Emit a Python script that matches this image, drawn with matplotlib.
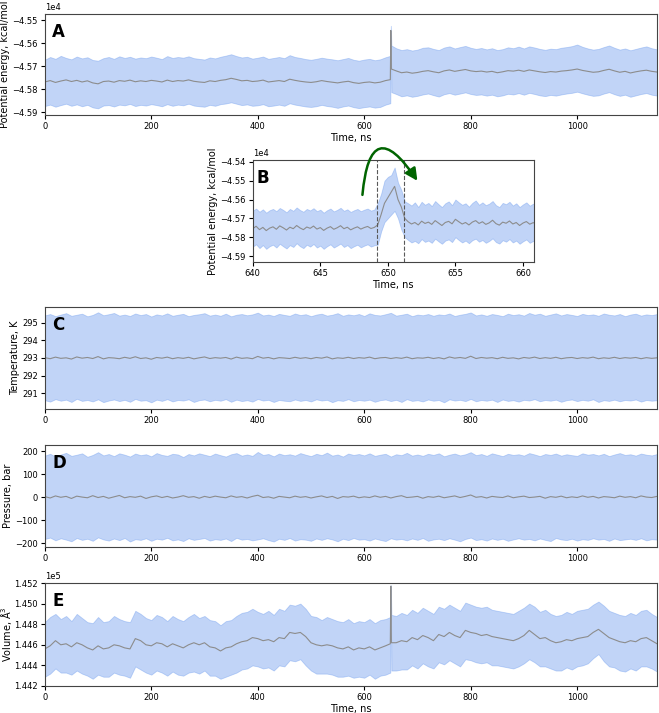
"""
Five-panel MD stability figure: potential energy (full run + zoom on the
jump near 650 ns), temperature, pressure and volume, each shown as a mean
trace with a shaded band.
"""

import matplotlib.pyplot as plt

# ---------------------------------------------------------------------------
# Data
# ---------------------------------------------------------------------------
# Panel A / E share this time grid (ns): 10 ns steps plus the jump at 650 ns
t_jump = list(range(0, 650, 10)) + [649, 650, 651] + list(range(660, 1151, 10))
t_grid = list(range(0, 1151, 10))

a_mean = [
    -45768, -45762, -45770, -45764, -45759, -45766, -45761, -45768, -45763, -45772,
    -45776, -45766, -45764, -45769, -45762, -45765, -45760, -45767, -45763, -45766,
    -45761, -45764, -45768, -45760, -45766, -45762, -45764, -45759, -45765, -45768,
    -45770, -45763, -45766, -45761, -45758, -45752, -45757, -45763, -45761, -45766,
    -45764, -45760, -45768, -45765, -45762, -45766, -45756, -45761, -45765, -45768,
    -45770, -45767, -45762, -45766, -45769, -45772, -45768, -45765, -45771, -45774,
    -45770, -45768, -45772, -45769, -45762,
    -45758, -45545, -45712,
    -45720, -45728, -45725, -45730, -45727, -45722, -45719, -45724, -45728, -45720,
    -45716, -45722, -45718, -45714, -45720, -45723, -45721, -45725, -45722, -45728,
    -45724, -45719, -45721, -45717, -45722, -45716, -45720, -45724, -45727, -45723,
    -45725, -45721, -45719, -45716, -45712, -45718, -45722, -45726, -45724, -45718,
    -45713, -45720, -45726, -45722, -45729, -45724, -45720, -45717, -45722, -45725,
]
a_hi = [
    -45672, -45660, -45668, -45655, -45664, -45670, -45658, -45666, -45661, -45673,
    -45676, -45665, -45660, -45668, -45657, -45664, -45659, -45667, -45662, -45665,
    -45658, -45663, -45669, -45656, -45664, -45660, -45663, -45657, -45665, -45668,
    -45671, -45662, -45666, -45659, -45654, -45648, -45656, -45662, -45659, -45667,
    -45663, -45658, -45668, -45664, -45660, -45665, -45652, -45660, -45664, -45669,
    -45672, -45668, -45663, -45667, -45670, -45674, -45669, -45664, -45672, -45676,
    -45671, -45668, -45674, -45670, -45661,
    -45655, -45525, -45610,
    -45622, -45630, -45626, -45632, -45628, -45620, -45618, -45625, -45630, -45619,
    -45614, -45623, -45617, -45612, -45620, -45625, -45621, -45627, -45622, -45630,
    -45626, -45618, -45622, -45615, -45623, -45614, -45619, -45625, -45629, -45624,
    -45626, -45620, -45617, -45613, -45606, -45616, -45623, -45628, -45625, -45617,
    -45610, -45620, -45628, -45623, -45631, -45625, -45619, -45614, -45622, -45627,
]
a_lo = [
    -45872, -45866, -45875, -45868, -45862, -45871, -45865, -45873, -45867, -45878,
    -45882, -45870, -45868, -45874, -45866, -45869, -45863, -45872, -45867, -45870,
    -45864, -45868, -45873, -45864, -45871, -45866, -45869, -45862, -45870, -45873,
    -45875, -45867, -45871, -45864, -45861, -45856, -45862, -45868, -45865, -45871,
    -45869, -45864, -45873, -45870, -45866, -45871, -45860, -45866, -45870, -45874,
    -45876, -45873, -45867, -45872, -45875, -45880, -45874, -45870, -45877, -45881,
    -45877, -45874, -45879, -45876, -45866,
    -45860, -45570, -45812,
    -45820, -45830, -45826, -45832, -45828, -45822, -45818, -45825, -45831, -45821,
    -45816, -45823, -45818, -45813, -45820, -45824, -45822, -45827, -45823, -45830,
    -45826, -45819, -45822, -45816, -45823, -45815, -45820, -45826, -45829, -45824,
    -45827, -45822, -45818, -45815, -45810, -45817, -45823, -45828, -45826, -45818,
    -45812, -45821, -45828, -45823, -45832, -45826, -45820, -45816, -45823, -45827,
]

# Panel B: zoom 640-661 ns, 0.25 ns steps
t_zoom = [640 + 0.25 * i for i in range(85)]
b_mean = [
    -45755, -45742, -45760, -45748, -45765, -45752, -45745, -45758, -45740, -45750,
    -45762, -45747, -45755, -45738, -45751, -45760, -45746, -45753, -45741, -45757,
    -45749, -45764, -45752, -45744, -45758, -45750, -45739, -45755, -45747, -45761,
    -45752, -45745, -45757, -45749, -45743, -45754, -45748,
    -45735, -45680, -45620, -45590, -45560, -45530, -45600, -45640, -45700,
    -45718, -45730, -45722, -45735, -45715, -45727, -45720, -45732, -45712, -45725,
    -45738, -45722, -45716, -45729, -45705, -45718, -45730, -45722, -45735, -45720,
    -45712, -45727, -45718, -45732, -45724, -45710, -45728, -45736, -45720, -45726,
    -45714, -45730, -45722, -45738, -45725, -45717, -45731, -45723, -45728,
]
b_hi = [
    -45660, -45648, -45665, -45652, -45670, -45657, -45650, -45662, -45645, -45655,
    -45668, -45650, -45660, -45642, -45656, -45665, -45650, -45658, -45646, -45662,
    -45654, -45670, -45657, -45648, -45663, -45655, -45644, -45660, -45652, -45666,
    -45657, -45650, -45662, -45654, -45648, -45659, -45653,
    -45620, -45570, -45500, -45480, -45470, -45430, -45510, -45550, -45610,
    -45620, -45632, -45615, -45640, -45612, -45628, -45618, -45635, -45608, -45625,
    -45640, -45620, -45610, -45630, -45600, -45615, -45628, -45620, -45638, -45618,
    -45605, -45628, -45615, -45630, -45622, -45608, -45630, -45640, -45618, -45625,
    -45612, -45632, -45620, -45640, -45626, -45615, -45633, -45622, -45630,
]
b_lo = [
    -45850, -45838, -45858, -45842, -45862, -45848, -45840, -45855, -45835, -45848,
    -45860, -45842, -45852, -45832, -45848, -45858, -45840, -45850, -45836, -45855,
    -45845, -45862, -45848, -45838, -45855, -45845, -45834, -45852, -45842, -45858,
    -45848, -45840, -45854, -45845, -45838, -45850, -45843,
    -45840, -45770, -45720, -45700, -45680, -45660, -45700, -45760, -45800,
    -45815, -45828, -45820, -45832, -45810, -45825, -45818, -45830, -45808, -45822,
    -45835, -45818, -45812, -45826, -45800, -45815, -45828, -45818, -45832, -45816,
    -45808, -45824, -45815, -45830, -45820, -45806, -45826, -45834, -45816, -45824,
    -45810, -45828, -45818, -45835, -45822, -45812, -45830, -45820, -45826,
]
b_marks = [649.2, 651.2]

# Panel C: temperature, K
c_mean = [
    293.02, 292.96, 293.05, 292.98, 293.01, 292.94, 293.06, 292.99, 293.03, 292.97,
    293.08, 292.95, 293.02, 293.00, 292.96, 293.04, 292.98, 293.07, 292.97, 293.01,
    292.93, 293.03, 292.99, 293.05, 292.96, 293.02, 292.98, 293.04, 292.95, 293.01,
    293.06, 292.97, 293.02, 292.99, 293.03, 292.94, 293.05, 292.98, 293.01, 292.96,
    293.09, 292.99, 293.03, 292.95, 293.02, 293.00, 292.97, 293.04, 292.98, 293.02,
    292.96, 293.03, 292.99, 293.06, 292.95, 293.01, 292.98, 293.04, 292.97, 293.02,
    292.99, 293.05, 292.96, 293.01, 293.03, 292.97, 293.02, 292.98, 293.05, 292.96,
    293.01, 292.99, 293.04, 292.97, 293.02, 292.95, 293.06, 292.99, 293.03, 292.98,
    293.10, 292.97, 293.03, 292.99, 293.02, 292.96, 293.04, 292.98, 293.01, 292.95,
    293.03, 292.99, 293.05, 292.97, 293.02, 292.98, 293.04, 292.96, 293.01, 293.03,
    292.97, 293.02, 292.99, 293.05, 292.96, 293.01, 292.98, 293.04, 292.97, 293.02,
    292.99, 293.03, 292.96, 293.02, 292.98, 293.01,
]
c_hi = [
    295.42, 295.50, 295.38, 295.47, 295.55, 295.40, 295.46, 295.52, 295.37, 295.45,
    295.60, 295.43, 295.49, 295.56, 295.41, 295.47, 295.39, 295.53, 295.44, 295.50,
    295.36, 295.48, 295.42, 295.54, 295.40, 295.46, 295.51, 295.38, 295.45, 295.49,
    295.55, 295.41, 295.47, 295.40, 295.52, 295.37, 295.46, 295.50, 295.43, 295.48,
    295.58, 295.42, 295.47, 295.39, 295.51, 295.45, 295.40, 295.53, 295.44, 295.49,
    295.38, 295.47, 295.52, 295.41, 295.46, 295.55, 295.40, 295.48, 295.43, 295.50,
    295.39, 295.54, 295.45, 295.42, 295.49, 295.57, 295.41, 295.46, 295.52, 295.38,
    295.47, 295.43, 295.50, 295.40, 295.48, 295.44, 295.53, 295.39, 295.46, 295.51,
    295.59, 295.42, 295.48, 295.40, 295.50, 295.45, 295.38, 295.52, 295.44, 295.49,
    295.41, 295.56, 295.46, 295.52, 295.40, 295.47, 295.54, 295.42, 295.50, 295.45,
    295.39, 295.51, 295.44, 295.48, 295.40, 295.53, 295.46, 295.42, 295.50, 295.38,
    295.47, 295.52, 295.41, 295.48, 295.44, 295.50,
]
c_lo = [
    290.60, 290.52, 290.66, 290.57, 290.63, 290.50, 290.68, 290.56, 290.61, 290.53,
    290.65, 290.49, 290.58, 290.64, 290.55, 290.62, 290.51, 290.67, 290.57, 290.60,
    290.48, 290.63, 290.56, 290.66, 290.53, 290.61, 290.58, 290.65, 290.50, 290.60,
    290.64, 290.54, 290.62, 290.57, 290.66, 290.51, 290.63, 290.55, 290.60, 290.52,
    290.67, 290.58, 290.62, 290.50, 290.61, 290.57, 290.54, 290.64, 290.56, 290.61,
    290.53, 290.65, 290.58, 290.62, 290.49, 290.60, 290.56, 290.66, 290.54, 290.61,
    290.57, 290.63, 290.51, 290.60, 290.64, 290.55, 290.62, 290.50, 290.66, 290.56,
    290.60, 290.53, 290.64, 290.57, 290.61, 290.48, 290.65, 290.58, 290.62, 290.55,
    290.67, 290.54, 290.61, 290.57, 290.63, 290.50, 290.64, 290.56, 290.60, 290.52,
    290.62, 290.58, 290.66, 290.54, 290.61, 290.57, 290.63, 290.51, 290.60, 290.64,
    290.55, 290.62, 290.57, 290.65, 290.50, 290.60, 290.56, 290.63, 290.54, 290.61,
    290.58, 290.64, 290.52, 290.61, 290.57, 290.60,
]

# Panel D: pressure, bar
d_mean = [
    2, -4, 5, -1, 3, -6, 4, 0, -3, 6, -2, 3, -5, 1, 7, -3, 2, -1, 4, -6,
    1, 5, -2, 3, -4, 0, 6, -1, 2, -5, 3, -2, 4, 0, -3, 5, -1, 2, -4, 3,
    8, -2, 1, -5, 3, 0, -3, 4, -1, 2, -4, 1, 5, -2, 3, -6, 2, 0, 4, -3,
    1, -2, 5, -1, 3, -4, 2, 6, -2, 0, 3, -5, 2, -1, 4, -3, 1, 5, -2, 3,
    9, -1, 2, -4, 3, 0, -2, 5, -3, 1, 4, -2, 0, 3, -5, 2, -1, 4, -3, 1,
    -2, 5, -1, 3, -4, 2, 0, -3, 4, -1, 2, -3, 5, 0, -2, 3,
]
d_hi = [
    180, 188, 176, 185, 192, 179, 184, 190, 175, 183, 195, 181, 187, 178, 190, 184, 176, 189, 182, 186,
    177, 191, 183, 179, 188, 185, 174, 187, 181, 190, 184, 178, 189, 182, 176, 186, 191, 180, 185, 179,
    196, 183, 187, 177, 189, 182, 186, 180, 191, 184, 178, 188, 182, 193, 180, 185, 176, 189, 183, 187,
    181, 190, 179, 184, 188, 176, 186, 182, 192, 180, 185, 179, 188, 183, 190, 177, 184, 189, 181, 186,
    195, 182, 187, 179, 190, 184, 178, 188, 183, 186, 180, 191, 185, 178, 187, 183, 189, 180, 186, 182,
    179, 190, 184, 187, 181, 188, 178, 185, 191, 183, 186, 180, 189, 184, 181, 187,
]
d_lo = [
    -182, -176, -188, -179, -185, -192, -178, -186, -181, -190, -175, -184, -189, -180, -187, -178, -193, -183, -186, -179,
    -190, -181, -185, -177, -188, -184, -191, -179, -186, -182, -178, -189, -183, -186, -180, -191, -177, -185, -182, -188,
    -184, -179, -187, -193, -181, -186, -178, -189, -183, -185, -190, -180, -186, -179, -184, -192, -181, -187, -178, -185,
    -183, -189, -180, -186, -191, -179, -185, -182, -188, -180, -186, -178, -190, -184, -181, -187, -179, -185, -192, -182,
    -176, -187, -183, -189, -180, -186, -181, -190, -184, -179, -185, -182, -188, -180, -186, -191, -178, -184, -187, -181,
    -189, -183, -186, -179, -185, -182, -190, -180, -187, -184, -181, -186, -179, -188, -183, -185,
]

# Panel E: volume, A^3 (same grid as panel A)
e_mean = [
    144560, 144590, 144640, 144600, 144610, 144580, 144620, 144600, 144570, 144550,
    144590, 144560, 144570, 144600, 144590, 144570, 144560, 144660, 144640, 144600,
    144590, 144620, 144610, 144580, 144610, 144590, 144570, 144600, 144620, 144600,
    144620, 144580, 144570, 144540, 144570, 144580, 144610, 144630, 144640, 144670,
    144660, 144640, 144650, 144630, 144670, 144660, 144720, 144710, 144720, 144680,
    144620, 144600, 144590, 144600, 144590, 144570, 144560, 144580, 144550, 144570,
    144560, 144580, 144550, 144570, 144590,
    144610, 145170, 144620,
    144620, 144640, 144630, 144670, 144650, 144690, 144670, 144640, 144700, 144680,
    144720, 144690, 144670, 144740, 144720, 144710, 144690, 144700, 144680, 144670,
    144660, 144650, 144640, 144660, 144690, 144740, 144700, 144660, 144670, 144640,
    144620, 144630, 144650, 144640, 144660, 144670, 144680, 144720, 144750, 144710,
    144670, 144650, 144630, 144620, 144640, 144630, 144660, 144670, 144640, 144610,
]
e_hi = [
    144820, 144870, 144900, 144850, 144880, 144830, 144900, 144860, 144820, 144810,
    144870, 144820, 144830, 144880, 144850, 144830, 144820, 144930, 144900, 144860,
    144840, 144890, 144870, 144830, 144880, 144850, 144830, 144870, 144900, 144860,
    144880, 144840, 144830, 144790, 144830, 144840, 144880, 144910, 144920, 144950,
    144920, 144900, 144930, 144890, 144950, 144930, 144990, 144980, 145000, 144950,
    144880, 144870, 144840, 144870, 144850, 144830, 144820, 144850, 144810, 144830,
    144820, 144850, 144810, 144840, 144850,
    144870, 145180, 144890,
    144880, 144910, 144890, 144940, 144910, 144960, 144930, 144900, 144970, 144950,
    144990, 144960, 144930, 145010, 144990, 144970, 144960, 144970, 144940, 144930,
    144920, 144910, 144900, 144930, 144960, 145000, 144970, 144920, 144940, 144900,
    144880, 144890, 144920, 144900, 144930, 144940, 144950, 144990, 145020, 144980,
    144930, 144910, 144890, 144880, 144910, 144890, 144930, 144940, 144900, 144870,
]
e_lo = [
    144290, 144320, 144370, 144330, 144330, 144310, 144350, 144320, 144300, 144270,
    144310, 144290, 144290, 144330, 144310, 144300, 144280, 144390, 144360, 144330,
    144310, 144350, 144330, 144300, 144340, 144310, 144300, 144330, 144340, 144320,
    144350, 144300, 144300, 144270, 144290, 144310, 144330, 144360, 144370, 144400,
    144390, 144370, 144380, 144350, 144400, 144390, 144450, 144440, 144460, 144400,
    144350, 144320, 144320, 144320, 144310, 144290, 144290, 144300, 144280, 144290,
    144280, 144310, 144270, 144300, 144310,
    144330, 145160, 144350,
    144350, 144360, 144360, 144400, 144370, 144420, 144390, 144370, 144430, 144410,
    144450, 144420, 144390, 144460, 144450, 144430, 144420, 144430, 144400, 144400,
    144390, 144380, 144370, 144390, 144420, 144460, 144430, 144390, 144390, 144370,
    144350, 144350, 144380, 144360, 144390, 144400, 144420, 144470, 144510, 144440,
    144390, 144380, 144350, 144340, 144370, 144350, 144390, 144390, 144370, 144340,
]

# ---------------------------------------------------------------------------
# Style
# ---------------------------------------------------------------------------
plt.rcParams.update({
    "font.family": "DejaVu Sans",
    "font.size": 7,
    "axes.labelsize": 7,
    "axes.labelpad": 1.5,
    "xtick.labelsize": 6,
    "ytick.labelsize": 6,
    "axes.linewidth": 0.8,
    "axes.edgecolor": "#444444",
    "xtick.major.size": 3,
    "ytick.major.size": 3,
    "xtick.major.pad": 2,
    "ytick.major.pad": 2,
})

BAND = "cornflowerblue"
LINE = "#8c8c8c"
FULL_TICKS = [0, 200, 400, 600, 800, 1000]

fig = plt.figure(figsize=(6.59, 7.13), dpi=100)


def panel(rect, t, mean, lo, hi, letter):
    ax = fig.add_axes(rect)
    ax.fill_between(t, lo, hi, color=BAND, alpha=0.4, linewidth=0.6)
    ax.plot(t, mean, color=LINE, linewidth=0.8)
    ax.text(0.012, 0.91, letter, transform=ax.transAxes, ha="left", va="top",
            fontsize=12, fontweight="bold")
    return ax


def sci_y(ax):
    ax.ticklabel_format(axis="y", style="sci", scilimits=(0, 0), useOffset=False)
    ax.yaxis.get_offset_text().set_fontsize(6)


# A: potential energy, full trajectory
ax = panel([0.068, 0.839, 0.929, 0.141], t_jump, a_mean, a_lo, a_hi, "A")
ax.set_xlim(0, 1150)
ax.set_xticks(FULL_TICKS)
ax.set_ylim(-45910, -45475)
ax.set_yticks([-45900, -45800, -45700, -45600, -45500])
sci_y(ax)
ax.set_xlabel("Time, ns")
ax.set_ylabel("Potential energy, kcal/mol")

# B: zoom on the jump
ax = panel([0.3835, 0.6325, 0.4265, 0.1431], t_zoom, b_mean, b_lo, b_hi, "B")
for x in b_marks:
    ax.axvline(x, color="0.35", linestyle="--", linewidth=0.8)
ax.set_xlim(640, 660.8)
ax.set_ylim(-45932, -45390)
ax.set_xticks([640, 645, 650, 655, 660])
ax.set_yticks([-45900, -45800, -45700, -45600, -45500, -45400])
sci_y(ax)
ax.set_xlabel("Time, ns")
ax.set_ylabel("Potential energy, kcal/mol")
ax.annotate("", xy=(652.3, -45513), xytext=(648.1, -45590),
            arrowprops=dict(arrowstyle="-|>", connectionstyle="arc3,rad=-1.45",
                            color="darkgreen", lw=1.8, mutation_scale=18),
            annotation_clip=False)

# C: temperature
ax = panel([0.068, 0.4264, 0.929, 0.143], t_grid, c_mean, c_lo, c_hi, "C")
ax.set_xlim(0, 1150)
ax.set_xticks(FULL_TICKS)
ax.set_ylim(290.1, 295.9)
ax.set_yticks([291, 292, 293, 294, 295])
ax.set_ylabel("Temperature, K")

# D: pressure
ax = panel([0.068, 0.2328, 0.929, 0.143], t_grid, d_mean, d_lo, d_hi, "D")
ax.set_xlim(0, 1150)
ax.set_xticks(FULL_TICKS)
ax.set_ylim(-217, 226)
ax.set_yticks([-200, -100, 0, 100, 200])
ax.set_ylabel("Pressure, bar")

# E: volume
ax = panel([0.068, 0.0379, 0.929, 0.1444], t_jump, e_mean, e_lo, e_hi, "E")
ax.set_xlim(0, 1150)
ax.set_xticks(FULL_TICKS)
ax.set_ylim(144200, 145200)
ax.set_yticks([144200, 144400, 144600, 144800, 145000, 145200])
sci_y(ax)
ax.set_xlabel("Time, ns")
ax.set_ylabel("Volume, Å$^3$", labelpad=0)

fig.savefig("out.png", dpi=100)
